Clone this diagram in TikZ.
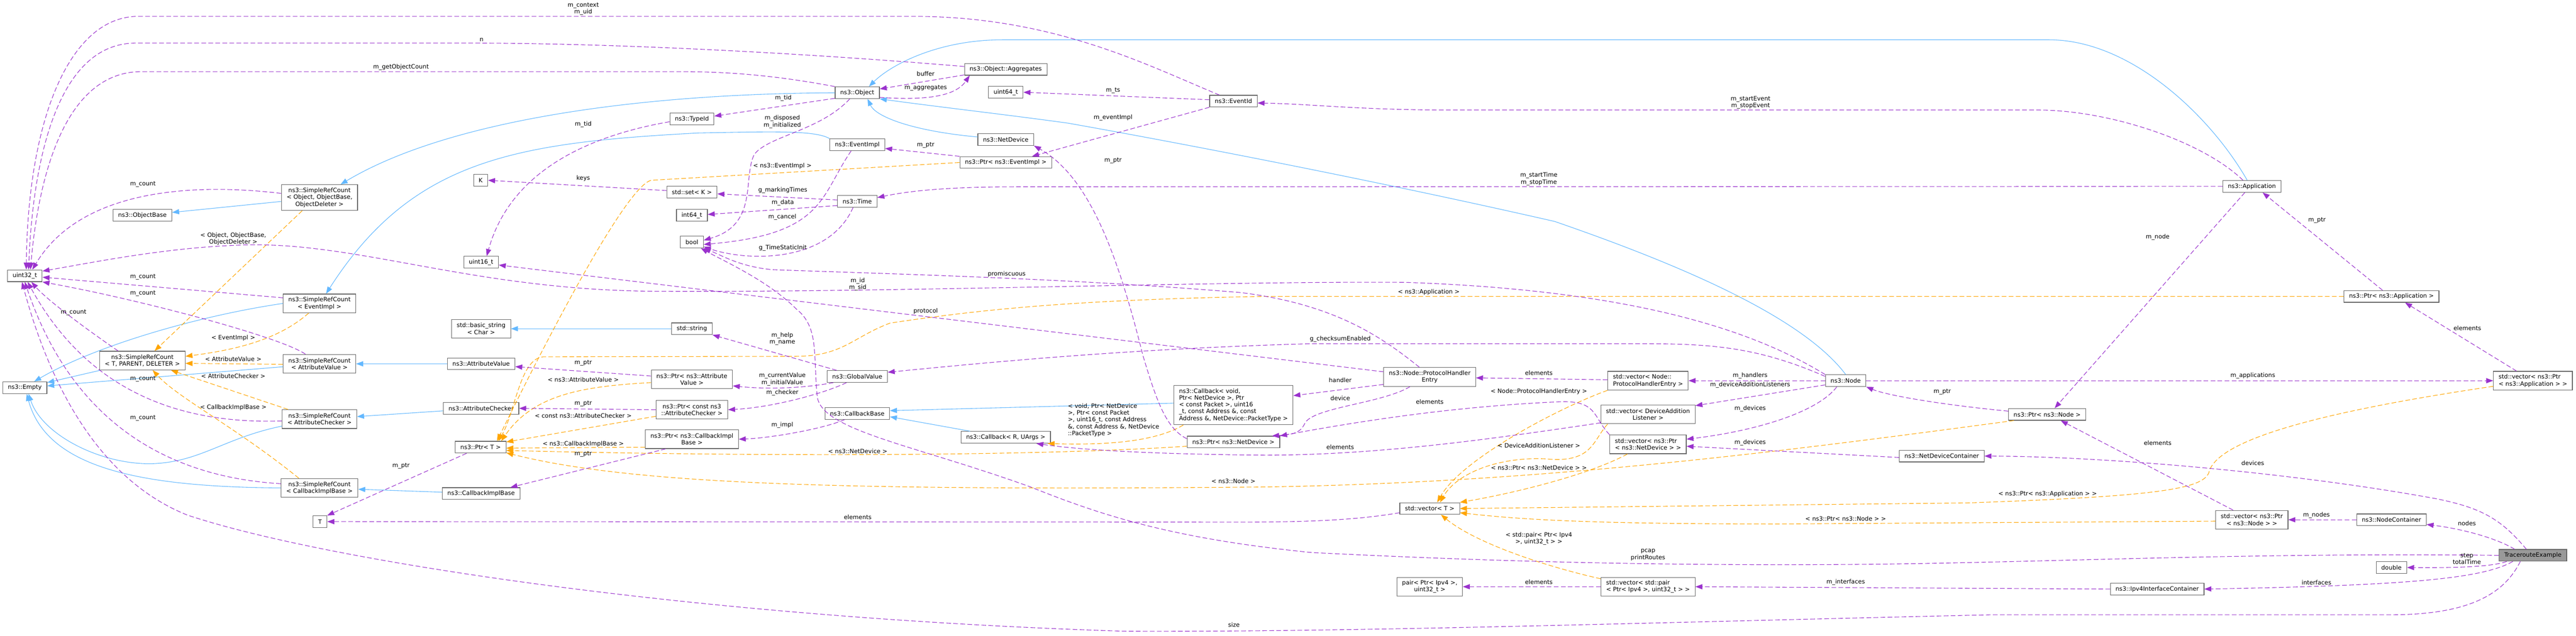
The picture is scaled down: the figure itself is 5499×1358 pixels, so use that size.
\documentclass[tikz,border=0pt]{standalone}
\usepackage{fontspec}
\setmainfont{DejaVu Sans}
\usetikzlibrary{arrows.meta}
\definecolor{edgeuse}{HTML}{9A32CD}
\definecolor{edgeinst}{HTML}{FFA500}
\definecolor{edgeinh}{HTML}{63B8FF}
\definecolor{boxline}{HTML}{666666}
\definecolor{boxfill}{HTML}{999999}
\begin{document}
\begin{tikzpicture}[x=1pt,y=-1pt,font=\fontsize{12.7}{14.6}\selectfont,
  box/.style={draw=boxline, line width=1.3pt, fill=white, inner xsep=11pt, inner ysep=3pt, minimum height=25pt, align=center},
  two/.style={box, minimum height=40pt},
  three/.style={box, minimum height=55pt},
  five/.style={box, minimum height=84pt, align=left},
  use/.style={draw=edgeuse, line width=1.2pt, dash pattern=on 10pt off 5pt, -{Triangle[length=15pt,width=11pt]}},
  inst/.style={use, draw=edgeinst},
  inh/.style={draw=edgeinh, line width=1.2pt, -{Triangle[length=15pt,width=11pt]}},
  lab/.style={inner sep=0pt, align=center}]
\useasboundingbox (0,0) rectangle (5499,1358);

\node[box] (uint32) at (53,589) {uint32\_t};
\node[box] (empty) at (53,828) {ns3::Empty};
\node[box] (objbase) at (304,460) {ns3::ObjectBase};
\node[two] (srcTPD) at (304,770) {ns3::SimpleRefCount\\< T, PARENT, DELETER >};
\node[three] (srcObj) at (682,422) {ns3::SimpleRefCount\\< Object, ObjectBase,\\ObjectDeleter >};
\node[two] (srcEv) at (682,648) {ns3::SimpleRefCount\\< EventImpl >};
\node[two] (srcAV) at (682,777) {ns3::SimpleRefCount\\< AttributeValue >};
\node[two] (srcAC) at (682,895) {ns3::SimpleRefCount\\< AttributeChecker >};
\node[two] (srcCIB) at (682,1042) {ns3::SimpleRefCount\\< CallbackImplBase >};
\node[box] (T) at (683,1114) {T};
\node[box] (K) at (1026,385) {K};
\node[box] (u16) at (1027,560) {uint16\_t};
\node[two] (bstr) at (1027,702) {std::basic\_string\\< Char >};
\node[box] (attrval) at (1027,777) {ns3::AttributeValue};
\node[box] (attrchk) at (1027,872) {ns3::AttributeChecker};
\node[box] (ptrT) at (1026,955) {ns3::Ptr< T >};
\node[box] (cib) at (1027,1054) {ns3::CallbackImplBase};
\node[box] (typeid) at (1477,254) {ns3::TypeId};
\node[box] (setK) at (1477,410) {std::set< K >};
\node[box] (i64) at (1477,460) {int64\_t};
\node[box] (bool) at (1477,517) {bool};
\node[box] (str) at (1477,702) {std::string};
\node[two] (ptrAV) at (1477,810) {ns3::Ptr< ns3::Attribute\\Value >};
\node[two] (ptrAC) at (1477,875) {ns3::Ptr< const ns3\\::AttributeChecker >};
\node[two] (ptrCIB) at (1477,938) {ns3::Ptr< ns3::CallbackImpl\\Base >};
\node[box] (object) at (1830,198) {ns3::Object};
\node[box] (evimpl) at (1830,309) {ns3::EventImpl};
\node[box] (time) at (1830,430) {ns3::Time};
\node[box] (gval) at (1830,804) {ns3::GlobalValue};
\node[box] (cbbase) at (1830,883) {ns3::CallbackBase};
\node[box] (aggr) at (2147,148) {ns3::Object::Aggregates};
\node[box] (u64) at (2147,197) {uint64\_t};
\node[box] (netdev) at (2147,298) {ns3::NetDevice};
\node[box] (ptrEv) at (2147,347) {ns3::Ptr< ns3::EventImpl >};
\node[box] (cbRU) at (2147,934) {ns3::Callback< R, UArgs >};
\node[box] (evid) at (2633,216) {ns3::EventId};
\node[five] (cbvoid) at (2633,865) {ns3::Callback< void,\\ Ptr< NetDevice >, Ptr\\< const Packet >, uint16\\\_t, const Address \&, const\\ Address \&, NetDevice::PacketType >};
\node[box] (ptrND) at (2633,944) {ns3::Ptr< ns3::NetDevice >};
\node[two] (phe) at (3052,805) {ns3::Node::ProtocolHandler\\Entry};
\node[box] (vecT) at (3052,1086) {std::vector< T >};
\node[two] (pair) at (3052,1253) {pair< Ptr< Ipv4 >,\\uint32\_t >};
\node[two, align=left] (vecPHE) at (3518,813) {std::vector< Node::\\ProtocolHandlerEntry >};
\node[two] (vecDAL) at (3518,885) {std::vector< DeviceAddition\\Listener >};
\node[two, align=left] (vecND) at (3518,949) {std::vector< ns3::Ptr\\< ns3::NetDevice > >};
\node[two, align=left] (vecPair) at (3518,1253) {std::vector< std::pair\\< Ptr< Ipv4 >, uint32\_t > >};
\node[box] (nsnode) at (3940,813) {ns3::Node};
\node[box] (ndc) at (4145,974) {ns3::NetDeviceContainer};
\node[box] (ptrNode) at (4370,885) {ns3::Ptr< ns3::Node >};
\node[box] (ipv4ic) at (4605,1258) {ns3::Ipv4InterfaceContainer};
\node[box] (app) at (4807,398) {ns3::Application};
\node[two] (vecNode) at (4807,1110) {std::vector< ns3::Ptr\\< ns3::Node > >};
\node[box] (ptrApp) at (5105,633) {ns3::Ptr< ns3::Application >};
\node[box] (nodec) at (5105,1110) {ns3::NodeContainer};
\node[box] (dbl) at (5105,1212) {double};
\node[two, align=left] (vecApp) at (5407,813) {std::vector< ns3::Ptr\\< ns3::Application > >};
\node[box, fill=boxfill] (te) at (5407,1186) {TracerouteExample};

\draw[inh] (srcObj) -- (objbase);
\draw[inh] (object) .. controls (1350,200) and (950,260) .. ([xshift=45pt]srcObj.north);
\draw[inh] (evimpl.north west) .. controls (1740,278) and (1650,281) .. (1490,284) .. controls (1100,305) and (880,340) .. ([xshift=14pt]srcEv.north);
\draw[inh] (attrval) -- (srcAV);
\draw[inh] (attrchk) -- (srcAC);
\draw[inh] (cib) -- (srcCIB);
\draw[inh] (str) -- (bstr);
\draw[inh] (srcTPD) -- (empty);
\draw[inh] (srcAV) -- (empty);
\draw[inh] (srcEv.west) .. controls (420,675) and (200,740) .. ([xshift=20pt]empty.north);
\draw[inh] ([yshift=-15pt]srcAC.west) .. controls (480,935) and (430,985) .. (330,990) .. controls (220,995) and (90,930) .. ([xshift=8pt]empty.south);
\draw[inh] (srcCIB.west) .. controls (300,1040) and (100,1000) .. ([xshift=4pt]empty.south);
\draw[inh] (netdev) .. controls (1950,280) and (1870,250) .. ([xshift=22pt]object.south);
\draw[inh] (nsnode.north) .. controls (3850,680) and (3600,570) .. (3319,473) .. controls (3000,400) and (2600,320) .. (2280,263) .. controls (2150,245) and (2000,228) .. (object.south east);
\draw[inh] ([xshift=-10pt]app.north) .. controls (4720,250) and (4550,85) .. (4374,85) -- (2140,85) .. controls (2000,85) and (1900,140) .. ([xshift=25pt]object.north);
\draw[inh] ([yshift=4pt]cbvoid.west) -- ([yshift=6pt]cbbase.east);
\draw[inh] ([xshift=20pt]cbRU.north west) -- ([yshift=-7pt]cbbase.east);

\draw[inst] ([xshift=-37pt]srcObj.south) -- ([xshift=26pt]srcTPD.north) node[lab] at (498,510) {< Object, ObjectBase,\\ObjectDeleter >};
\draw[inst] ([xshift=-23pt]srcEv.south) .. controls (600,720) and (520,745) .. ([yshift=9pt]srcTPD.east) node[lab] at (498,722) {< EventImpl >};
\draw[inst] ([yshift=-1pt]srcAV.west) -- ([yshift=-6pt]srcTPD.east) node[lab] at (498,767) {< AttributeValue >};
\draw[inst] ([xshift=13pt]srcAC.north west) -- ([xshift=61pt]srcTPD.south) node[lab] at (498,803) {< AttributeChecker >};
\draw[inst] ([xshift=-44pt]srcCIB.north) .. controls (500,910) and (380,850) .. ([xshift=22pt]srcTPD.south) node[lab] at (498,870) {< CallbackImplBase >};
\draw[inst] (ptrEv.west) -- (1390,385) .. controls (1330,400) and (1130,800) .. ([xshift=35pt]ptrT.north) node[lab] at (1670,355) {< ns3::EventImpl >};
\draw[inst] ([yshift=-7pt]ptrAV.west) .. controls (1250,825) and (1140,840) .. ([xshift=44pt]ptrT.north) node[lab] at (1245,811) {< ns3::AttributeValue >};
\draw[inst] ([yshift=-14pt]ptrAC.west) -- ([yshift=-2pt]ptrT.north east) node[lab] at (1245,888) {< const ns3::AttributeChecker >};
\draw[inst] ([yshift=-17pt]ptrCIB.west) -- ([yshift=-2pt]ptrT.east) node[lab] at (1245,948) {< ns3::CallbackImplBase >};
\draw[inst] ([yshift=-9pt]ptrND.west) .. controls (2200,975) and (1600,975) .. ([yshift=-7pt]ptrT.east) node[lab] at (1831,964) {< ns3::NetDevice >};
\draw[inst] ([xshift=12pt]ptrNode.south west) .. controls (3800,965) and (3300,1030) .. (2700,1040) .. controls (1800,1048) and (1350,1035) .. ([yshift=-12pt]ptrT.east) node[lab] at (2633,1027) {< ns3::Node >};
\draw[inst] (ptrApp.west) -- (2700,633) .. controls (2300,640) and (2100,660) .. (1900,690) .. controls (1820,720) and (1800,760) .. (1700,761) -- (1160,762) .. controls (1110,765) and (1100,880) .. ([xshift=38pt]ptrT.north) node[lab] at (3050,624) {< ns3::Application >};
\draw[inst] ([xshift=-107pt]cbvoid.south) .. controls (2480,935) and (2400,952) .. ([xshift=-7pt]cbRU.south east) node[lab, align=left] at (2377,897) {< void, Ptr< NetDevice\\>, Ptr< const Packet\\>, uint16\_t, const Address\\\&, const Address \&, NetDevice\\::PacketType >};
\draw[inst] (vecPHE.south west) .. controls (3330,870) and (3120,980) .. ([xshift=16pt]vecT.north) node[lab] at (3285,836) {< Node::ProtocolHandlerEntry >};
\draw[inst] ([xshift=15pt]vecDAL.south west) .. controls (3400,940) and (3400,990) .. (3300,980) .. controls (3200,975) and (3110,1010) .. ([xshift=22pt]vecT.north) node[lab] at (3285,952) {< DeviceAdditionListener >};
\draw[inst] ([xshift=-44pt]vecND.south) .. controls (3400,1010) and (3250,1050) .. (vecT.north east) node[lab] at (3285,999) {< ns3::Ptr< ns3::NetDevice > >};
\draw[inst] ([yshift=-12pt]vecApp.west) .. controls (4950,880) and (4730,940) .. (4715,1010) .. controls (4700,1045) and (4600,1060) .. (4200,1074) -- (vecT.east) node[lab] at (4371,1055) {< ns3::Ptr< ns3::Application > >};
\draw[inst] ([yshift=-3pt]vecNode.west) -- (3800,1119) .. controls (3400,1119) and (3250,1110) .. ([yshift=-9pt]vecT.east) node[lab] at (3940,1108) {< ns3::Ptr< ns3::Node > >};
\draw[inst] ([yshift=17pt]vecPair.west) .. controls (3300,1210) and (3150,1160) .. ([xshift=24pt]vecT.south) node[lab] at (3285,1150) {< std::pair< Ptr< Ipv4\\>, uint32\_t > >};

\draw[use] ([xshift=-30pt]evid.north) .. controls (2450,140) and (2250,35) .. (1950,35) -- (290,35) .. controls (150,40) and (60,250) .. ([xshift=3pt]uint32.north) node[lab] at (1245,19) {m\_context\\m\_uid};
\draw[use] ([yshift=6pt]aggr.west) .. controls (1700,112) and (1300,92) .. (1000,92) -- (290,92) .. controls (120,92) and (70,350) .. ([xshift=8pt]uint32.north) node[lab] at (1028,85) {n};
\draw[use] (object.north west) .. controls (1650,160) and (1550,153) .. (1450,153) -- (300,153) .. controls (130,155) and (80,400) .. ([xshift=12pt]uint32.north) node[lab] at (856,143) {m\_getObjectCount};
\draw[use] ([yshift=9pt]srcObj.west) .. controls (450,395) and (180,390) .. ([xshift=16pt]uint32.north) node[lab] at (305,394) {m\_count};
\draw[use] ([yshift=12pt]srcEv.west) -- ([yshift=-3pt]uint32.east) node[lab] at (305,591) {m\_count};
\draw[use] ([xshift=-30pt]srcAV.north) .. controls (600,720) and (300,640) .. (uint32.south east) node[lab] at (305,627) {m\_count};
\draw[use] ([xshift=-52pt]srcTPD.north) .. controls (180,700) and (100,640) .. ([xshift=14pt]uint32.south) node[lab] at (157,667) {m\_count};
\draw[use] ([yshift=-4pt]srcAC.west) .. controls (420,905) and (200,860) .. ([xshift=6pt]uint32.south) node[lab] at (305,809) {m\_count};
\draw[use] ([yshift=9pt]srcCIB.west) .. controls (380,1020) and (160,920) .. (uint32.south) node[lab] at (305,893) {m\_count};
\draw[use] ([xshift=-27pt]te.south) .. controls (5340,1280) and (5250,1313) .. (5100,1313) -- (4250,1313) .. controls (3500,1330) and (2900,1350) .. (2400,1348) .. controls (1500,1320) and (700,1200) .. (400,1100) .. controls (200,1020) and (100,800) .. ([xshift=-6pt]uint32.south) node[lab] at (2634,1334) {size};
\draw[use] ([yshift=-12pt]object.west) -- ([yshift=6pt]typeid.east) node[lab] at (1672,209) {m\_tid};
\draw[use] ([xshift=-16pt]object.south) .. controls (1750,280) and (1640,290) .. (1610,330) .. controls (1585,380) and (1620,480) .. ([yshift=4pt]bool.east) node[lab] at (1670,260) {m\_disposed\\m\_initialized};
\draw[use] ([yshift=-12pt]aggr.west) -- ([yshift=8pt]object.east) node[lab] at (1976,157) {buffer};
\draw[use] ([yshift=-10pt]object.east) .. controls (1980,215) and (2040,205) .. ([xshift=-77pt]aggr.south) node[lab] at (1976,188) {m\_aggregates};
\draw[use] ([yshift=3pt]evid.west) -- (u64.east) node[lab] at (2376,193) {m\_ts};
\draw[use] (evid.south west) -- ([xshift=56pt]ptrEv.north) node[lab] at (2376,251) {m\_eventImpl};
\draw[use] (ptrEv.north west) -- ([yshift=-8pt]evimpl.east) node[lab] at (1976,310) {m\_ptr};
\draw[use] ([xshift=-13pt]evimpl.south) .. controls (1750,420) and (1760,500) .. ([yshift=-5pt]bool.east) node[lab] at (1670,463) {m\_cancel};
\draw[use] ([yshift=3pt]time.west) -- ([yshift=-4pt]setK.east) node[lab] at (1671,406) {g\_markingTimes};
\draw[use] ([yshift=-9pt]time.west) -- ([yshift=2pt]i64.east) node[lab] at (1671,433) {m\_data};
\draw[use] ([xshift=-9pt]time.south) .. controls (1770,560) and (1600,560) .. ([yshift=-10pt]bool.east) node[lab] at (1671,529) {g\_TimeStaticInit};
\draw[use] ([yshift=3pt]setK.west) -- (K.east) node[lab] at (1245,381) {keys};
\draw[use] ([yshift=-6pt]typeid.west) .. controls (1200,300) and (1080,400) .. ([xshift=12pt]u16.north) node[lab] at (1245,266) {m\_tid};
\draw[use] ([yshift=11pt]phe.west) -- ([yshift=-6pt]u16.east) node[lab] at (1976,665) {protocol};
\draw[use] (nsnode.north west) .. controls (3750,710) and (3500,620) .. (3000,603) .. controls (2600,600) and (1900,625) .. (1400,622) .. controls (1000,620) and (750,510) .. (500,524) .. controls (350,530) and (200,560) .. ([yshift=10pt]uint32.east) node[lab] at (1831,607) {m\_id\\m\_sid};
\draw[use] ([yshift=-4pt]nsnode.north west) .. controls (3750,740) and (3650,734) .. (3500,734) -- (2800,734) .. controls (2400,745) and (2100,775) .. ([yshift=9pt]gval.east) node[lab] at (2861,724) {g\_checksumEnabled};
\draw[use] ([xshift=-22pt]phe.north) .. controls (2950,720) and (2850,650) .. (2650,625) .. controls (2300,595) and (1900,585) .. (1650,576) .. controls (1580,570) and (1540,545) .. (bool.south east) node[lab] at (2149,585) {promiscuous};
\draw[use] (te.west) .. controls (4800,1180) and (4400,1200) .. (4000,1205) .. controls (3500,1210) and (3100,1195) .. (2800,1180) .. controls (2500,1150) and (2350,1100) .. (2200,1040) .. controls (1950,950) and (1760,920) .. (1745,850) .. controls (1735,760) and (1750,700) .. (1700,660) .. controls (1640,600) and (1550,560) .. ([xshift=-6pt]bool.south east) node[lab] at (3518,1185) {pcap\\printRoutes};
\draw[use] ([xshift=-44pt]gval.north) -- (str.south east) node[lab] at (1670,724) {m\_help\\m\_name};
\draw[use] ([xshift=14pt]gval.south west) .. controls (1700,832) and (1620,830) .. ([yshift=-14pt]ptrAV.east) node[lab] at (1670,810) {m\_currentValue\\m\_initialValue};
\draw[use] ([xshift=-23pt]gval.south) .. controls (1760,840) and (1650,870) .. (ptrAC.east) node[lab] at (1670,839) {m\_checker};
\draw[use] ([yshift=7pt]ptrAV.west) -- ([yshift=-6pt]attrval.east) node[lab] at (1245,775) {m\_ptr};
\draw[use] (ptrAC.west) -- (attrchk.east) node[lab] at (1245,862) {m\_ptr};
\draw[use] ([xshift=-27pt]cbbase.south) .. controls (1760,915) and (1650,935) .. (ptrCIB.east) node[lab] at (1670,908) {m\_impl};
\draw[use] ([xshift=-56pt]ptrCIB.south) -- ([xshift=-21pt]cib.north east) node[lab] at (1245,970) {m\_ptr};
\draw[use] ([xshift=-30pt]ptrT.south) -- (T.north east) node[lab] at (856,995) {m\_ptr};
\draw[use] ([yshift=-9pt]vecT.west) .. controls (2900,1110) and (2800,1115) .. (2650,1115) -- (T.east) node[lab] at (1831,1104) {elements};
\draw[use] ([yshift=7pt]ptrND.west) .. controls (2490,915) and (2470,860) .. (2440,760) .. controls (2390,560) and (2330,380) .. (netdev.south east) node[lab] at (2376,343) {m\_ptr};
\draw[use] ([yshift=-16pt]phe.west) -- ([yshift=20pt]cbvoid.east) node[lab] at (2861,812) {handler};
\draw[use] ([xshift=-42pt]phe.south) .. controls (2950,862) and (2800,870) .. (2785,905) .. controls (2775,925) and (2760,928) .. ([xshift=-17pt]ptrND.north east) node[lab] at (2861,850) {device};
\draw[use] (vecND.north west) .. controls (3400,890) and (3410,855) .. (3330,858) .. controls (3100,868) and (2900,900) .. (ptrND.north east) node[lab] at (3052,858) {elements};
\draw[use] ([yshift=2pt]vecPHE.west) -- ([yshift=-2pt]phe.east) node[lab] at (3285,796) {elements};
\draw[use] ([yshift=-18pt]vecDAL.west) .. controls (3200,935) and (2950,972) .. (2700,972) .. controls (2450,970) and (2300,960) .. ([xshift=-31pt]cbRU.south east) node[lab] at (2861,955) {elements};
\draw[use] (nsnode.west) -- (vecPHE.east) node[lab] at (3736,802) {m\_handlers};
\draw[use] ([yshift=-9pt]nsnode.west) -- ([yshift=-2pt]vecDAL.north east) node[lab] at (3736,822) {m\_deviceAdditionListeners};
\draw[use] ([xshift=-19pt]nsnode.south) .. controls (3880,880) and (3750,920) .. ([yshift=11pt]vecND.east) node[lab] at (3736,873) {m\_devices};
\draw[use] ([yshift=-3pt]ndc.west) -- ([yshift=-4pt]vecND.east) node[lab] at (3736,945) {m\_devices};
\draw[use] (nsnode.east) -- (vecApp.west) node[lab] at (4809,802) {m\_applications};
\draw[use] ([yshift=7pt]ptrNode.west) .. controls (4150,865) and (4030,845) .. (nsnode.south east) node[lab] at (4146,837) {m\_ptr};
\draw[use] ([xshift=-15pt]app.south) -- ([xshift=16pt]ptrNode.north) node[lab] at (4606,506) {m\_node};
\draw[use] ([xshift=-19pt]ptrApp.north) -- ([xshift=23pt]app.south) node[lab] at (4946,470) {m\_ptr};
\draw[use] ([xshift=-35pt]vecApp.north) -- ([xshift=29pt]ptrApp.south) node[lab] at (5267,701) {elements};
\draw[use] ([xshift=-40pt]vecNode.north) -- ([xshift=29pt]ptrNode.south) node[lab] at (4606,946) {elements};
\draw[use] (nodec.west) -- (vecNode.east) node[lab] at (4945,1100) {m\_nodes};
\draw[use] ([xshift=-39pt]te.north) .. controls (5330,1150) and (5260,1130) .. ([yshift=-10pt]nodec.east) node[lab] at (5266,1118) {nodes};
\draw[use] ([xshift=-14pt]te.north) .. controls (5340,1110) and (5300,1085) .. (5200,1065) .. controls (4900,1010) and (4500,975) .. (ndc.east) node[lab] at (4809,989) {devices};
\draw[use] ([xshift=-56pt]te.south) .. controls (5320,1210) and (5250,1213) .. (dbl.east) node[lab] at (5266,1193) {step\\totalTime};
\draw[use] ([xshift=-43pt]te.south) .. controls (5300,1235) and (5150,1250) .. (ipv4ic.east) node[lab] at (4945,1244) {interfaces};
\draw[use] (ipv4ic.west) -- (vecPair.east) node[lab] at (3940,1243) {m\_interfaces};
\draw[use] (vecPair.west) -- (pair.east) node[lab] at (3285,1243) {elements};
\draw[use] ([xshift=-19pt]app.north) .. controls (4700,300) and (4500,235) .. (4350,235) -- (3100,235) .. controls (2900,235) and (2800,222) .. ([yshift=-4pt]evid.east) node[lab] at (3737,219) {m\_startEvent\\m\_stopEvent};
\draw[use] (app.west) -- (2150,399) .. controls (2000,400) and (1930,410) .. ([yshift=8pt]time.east) node[lab] at (3285,382) {m\_startTime\\m\_stopTime};
\end{tikzpicture}
\end{document}
